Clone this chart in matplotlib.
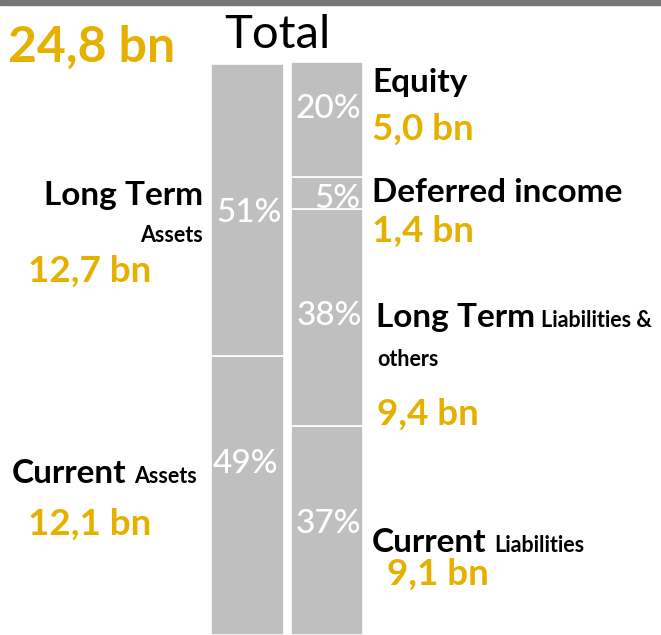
import matplotlib
matplotlib.use("Agg")
import matplotlib.pyplot as plt
from matplotlib.patches import Rectangle

W, H = 661, 635
plt.rcParams['font.family'] = ['Lato', 'DejaVu Sans']

# balance sheet, bn
total_label = "24,8 bn"
assets_names = ["Current", "Long Term"]
assets_values = [12.1, 12.7]
assets_pct = ["49%", "51%"]
liab_names = ["Current", "Long Term", "Deferred income", "Equity"]
liab_values = [9.1, 9.4, 1.4, 5.0]
liab_pct = ["37%", "38%", "5%", "20%"]
value_labels = {"Current Assets": "12,1 bn", "Long Term Assets": "12,7 bn",
                "Current Liabilities": "9,1 bn", "Long Term Liabilities": "9,4 bn",
                "Deferred income": "1,4 bn", "Equity": "5,0 bn"}

GOLD = '#E6B000'
GREY = '#BFBFBF'

fig = plt.figure(figsize=(W / 100, H / 100), dpi=100)
ax = fig.add_axes([0, 0, 1, 1])
scale = 572 / 24.85  # px per bn
ax.set_xlim(0, W)
ax.set_ylim(0, H / scale)
ax.set_axis_off()

# stacked bars
bottom = 0
for v in assets_values:
    ax.bar(247, v, bottom=bottom, width=73, color=GREY, edgecolor='white', linewidth=1.2)
    bottom += v
bottom = 0
for v in liab_values:
    ax.bar(327, v, bottom=bottom, width=72, color=GREY, edgecolor='white', linewidth=1.2)
    bottom += v

# top strip
fig.patches.append(Rectangle((0, 1 - 5 / H), 1, 5 / H, transform=fig.transFigure,
                             color='#767676', zorder=0))


def txt(x, y, s, **kw):
    kw.setdefault('va', 'baseline')
    fig.text(x / W, 1 - y / H, s, **kw)


# percentages in the bars
pct_style = dict(color='white', fontsize=24, fontweight='medium', va='center')
txt(249, 213, assets_pct[1], ha='center', **pct_style)
txt(245, 464, assets_pct[0], ha='center', **pct_style)
txt(361, 109, liab_pct[3], ha='right', **pct_style)
txt(360, 199, liab_pct[2], ha='right', **pct_style)
txt(362, 316, liab_pct[1], ha='right', **pct_style)
txt(361, 524, liab_pct[0], ha='right', **pct_style)

big = dict(color='black', fontsize=24, fontweight='bold')
small = dict(color='black', fontsize=15.5, fontweight='bold')
num = dict(color=GOLD, fontsize=26.5, fontweight='bold')

txt(277, 48, "Total", ha='center', color='black', fontsize=34, fontweight='normal')
txt(8, 62, total_label, color=GOLD, fontsize=36, fontweight='bold')

# assets side
txt(203, 205, assets_names[1], ha='right', **big)
txt(203, 242, "Assets", ha='right', **small)
txt(28, 282, value_labels["Long Term Assets"], **num)
txt(12, 483, assets_names[0], **big)
txt(134, 483, "Assets", **small)
txt(28, 535, value_labels["Current Assets"], **num)

# liabilities side
txt(372, 92, liab_names[3], **big)
txt(372, 140, value_labels["Equity"], **num)
txt(372, 202, liab_names[2], **big)
txt(372, 242, value_labels["Deferred income"], **num)
txt(376, 327, liab_names[1], **big)
txt(541, 327, "Liabilities &", **small)
txt(377, 366, "others", **small)
txt(377, 425, value_labels["Long Term Liabilities"], **num)
txt(372, 552, liab_names[0], **big)
txt(494, 552, "Liabilities", **small)
txt(387, 585, value_labels["Current Liabilities"], **num)

fig.savefig("out.png", dpi=100)
